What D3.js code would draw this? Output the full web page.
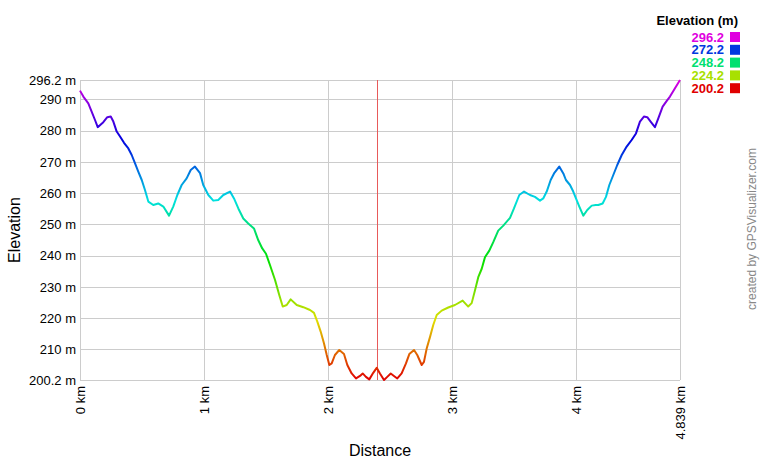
<!DOCTYPE html>
<html>
<head>
<meta charset="utf-8">
<script src="https://cdn.jsdelivr.net/npm/d3@7"></script>
<style>
  html, body { margin: 0; padding: 0; background: #fff; }
  svg { display: block; font-family: "Liberation Sans", Arial, sans-serif; }
</style>
</head>
<body>
<svg id="chart" width="760" height="460"></svg>
<script>
// ---- data ----
const distanceKm = [0,0.027,0.067,0.094,0.121,0.143,0.188,0.220,0.248,0.269,0.296,0.323,0.355,0.390,0.417,0.444,0.470,0.498,0.524,0.551,0.591,0.631,0.672,0.718,0.752,0.785,0.820,0.860,0.893,0.927,0.968,0.994,1.035,1.075,1.115,1.156,1.210,1.242,1.277,1.317,1.357,1.403,1.438,1.470,1.500,1.532,1.573,1.607,1.635,1.667,1.699,1.748,1.801,1.855,1.887,1.914,1.941,1.968,1.990,2.011,2.030,2.056,2.091,2.129,2.156,2.191,2.226,2.258,2.280,2.306,2.333,2.365,2.393,2.419,2.452,2.478,2.506,2.532,2.559,2.594,2.629,2.656,2.694,2.720,2.756,2.774,2.796,2.823,2.849,2.877,2.917,2.970,3.024,3.086,3.131,3.159,3.185,3.212,3.240,3.266,3.301,3.333,3.373,3.414,3.468,3.500,3.543,3.581,3.629,3.669,3.710,3.736,3.764,3.796,3.823,3.865,3.898,3.919,3.952,3.978,4.000,4.027,4.059,4.091,4.127,4.159,4.180,4.215,4.242,4.269,4.301,4.333,4.369,4.409,4.449,4.484,4.516,4.548,4.575,4.602,4.637,4.664,4.699,4.732,4.758,4.790,4.839];
const elevationM = [292.8,290.9,288.7,286.1,283.4,281.1,282.7,284.3,284.5,282.9,279.7,278.1,276.1,274.3,272.2,269.5,266.9,264.2,261.0,257.3,256.2,256.7,255.7,252.8,255.7,259.4,262.6,264.7,267.4,268.5,266.4,262.6,259.4,257.6,257.8,259.4,260.5,258.3,255.1,251.9,250.3,248.7,244.9,242.3,240.6,237.0,232.2,227.4,223.7,224.2,226.0,224.2,223.5,222.6,221.7,218.9,215.7,211.9,208.2,205.0,205.5,208.2,209.8,208.5,205.0,202.3,200.7,201.5,202.3,201.2,200.4,202.5,204.1,202.3,200.2,201.2,202.3,201.5,200.7,202.3,205.5,208.5,209.8,208.2,205.0,206.0,210.3,214.0,217.8,221.0,222.4,223.4,224.2,225.6,223.7,224.8,228.8,233.1,235.8,239.5,241.6,244.3,248.0,249.6,252.1,255.1,259.4,260.5,259.4,258.8,257.6,258.3,260.5,264.2,266.3,268.5,266.3,264.2,262.6,260.5,258.3,255.7,252.8,254.6,256.0,256.2,256.2,256.7,258.8,262.6,265.8,269.0,272.2,274.9,277.0,279.1,282.9,284.5,284.3,282.9,281.1,283.9,287.7,289.5,290.9,293.0,296.2];
const yTicks = [200.2, 210, 220, 230, 240, 250, 260, 270, 280, 290, 296.2];
const xTicks = [0, 1, 2, 3, 4, 4.839];
const legendValues = [296.2, 272.2, 248.2, 224.2, 200.2];
const markerKm = [2.395];

// ---- layout ----
const svg = d3.select("#chart");
const pLeft = 80, pRight = 680, pTop = 80, pBottom = 380;
const minE = 200.2, maxE = 296.2, maxD = 4.839;

const x = d3.scaleLinear().domain([0, maxD]).range([pLeft, pRight]);
const y = d3.scaleLinear().domain([minE, maxE]).range([pBottom, pTop]);
const color = v => d3.hsl(300 * (v - minE) / (maxE - minE), 1, 0.44).formatHex();

// grid
const grid = svg.append("g").attr("stroke", "#cccccc").attr("stroke-width", 1).attr("shape-rendering", "crispEdges");
grid.selectAll("line.h").data(yTicks).join("line")
  .attr("x1", pLeft).attr("x2", pRight)
  .attr("y1", d => Math.round(y(d)) + 0.5).attr("y2", d => Math.round(y(d)) + 0.5);
grid.selectAll("line.v").data(xTicks).join("line")
  .attr("y1", pTop).attr("y2", pBottom)
  .attr("x1", d => Math.round(x(d)) + 0.5).attr("x2", d => Math.round(x(d)) + 0.5);

// y axis labels
const yAxis = d3.axisLeft(y).tickValues(yTicks).tickSize(0).tickPadding(4).tickFormat(d => d + " m");
const ya = svg.append("g").attr("transform", `translate(${pLeft},0)`).call(yAxis);
ya.select(".domain").remove();
ya.selectAll("text").attr("font-size", 13).attr("fill", "#000").attr("font-family", "Liberation Sans, Arial, sans-serif");

// x axis labels (rotated)
const xAxis = d3.axisBottom(x).tickValues(xTicks).tickSize(0).tickFormat(d => d + " km");
const xa = svg.append("g").attr("transform", `translate(0,${pBottom})`).call(xAxis);
xa.select(".domain").remove();
xa.selectAll("text")
  .attr("font-size", 13).attr("fill", "#000").attr("font-family", "Liberation Sans, Arial, sans-serif")
  .attr("transform", "rotate(-90)")
  .attr("text-anchor", "end")
  .attr("x", -6).attr("y", 0).attr("dy", "0.35em");

// marker line
svg.selectAll("line.marker").data(markerKm).join("line")
  .attr("class", "marker")
  .attr("x1", d => Math.round(x(d)) + 0.5).attr("x2", d => Math.round(x(d)) + 0.5)
  .attr("y1", pTop).attr("y2", pBottom)
  .attr("stroke", "#e85a5a").attr("stroke-width", 1);

// gradient for the elevation line
const defs = svg.append("defs");
const grad = defs.append("linearGradient").attr("id", "elevGrad")
  .attr("gradientUnits", "userSpaceOnUse")
  .attr("x1", 0).attr("x2", 0).attr("y1", y(minE)).attr("y2", y(maxE));
const stops = d3.range(0, 21).map(i => minE + (maxE - minE) * i / 20);
grad.selectAll("stop").data(stops).join("stop")
  .attr("offset", d => (d - minE) / (maxE - minE))
  .attr("stop-color", d => color(d));

const pts = distanceKm.map((d, i) => [d, elevationM[i]]);
const line = d3.line().x(d => x(d[0])).y(d => y(d[1]));
svg.append("path").datum(pts)
  .attr("d", line)
  .attr("fill", "none")
  .attr("stroke", "url(#elevGrad)")
  .attr("stroke-width", 2)
  .attr("stroke-linejoin", "round");

// axis titles
svg.append("text").attr("x", (pLeft + pRight) / 2).attr("y", 456)
  .attr("text-anchor", "middle").attr("font-size", 16).attr("fill", "#000").text("Distance");
svg.append("text").attr("transform", `translate(20,${(pTop + pBottom) / 2}) rotate(-90)`)
  .attr("text-anchor", "middle").attr("font-size", 16).attr("fill", "#000").text("Elevation");

// legend
svg.append("text").attr("x", 738).attr("y", 25).attr("text-anchor", "end")
  .attr("font-size", 13).attr("font-weight", "bold").attr("fill", "#000").text("Elevation (m)");
const lg = svg.append("g");
const rowY = i => 41.5 + i * 12.8;
lg.selectAll("text").data(legendValues).join("text")
  .attr("x", 724).attr("y", (d, i) => rowY(i)).attr("text-anchor", "end")
  .attr("font-size", 13).attr("font-weight", "bold")
  .attr("fill", d => color(d)).text(d => d.toFixed(1));
lg.selectAll("rect").data(legendValues).join("rect")
  .attr("x", 730).attr("y", (d, i) => rowY(i) - 9.5).attr("width", 10).attr("height", 10)
  .attr("fill", d => color(d));

// watermark
svg.append("text").attr("transform", "translate(756,229) rotate(-90)")
  .attr("text-anchor", "middle").attr("font-size", 12).attr("fill", "#888").text("created by GPSVisualizer.com");
</script>
</body>
</html>
